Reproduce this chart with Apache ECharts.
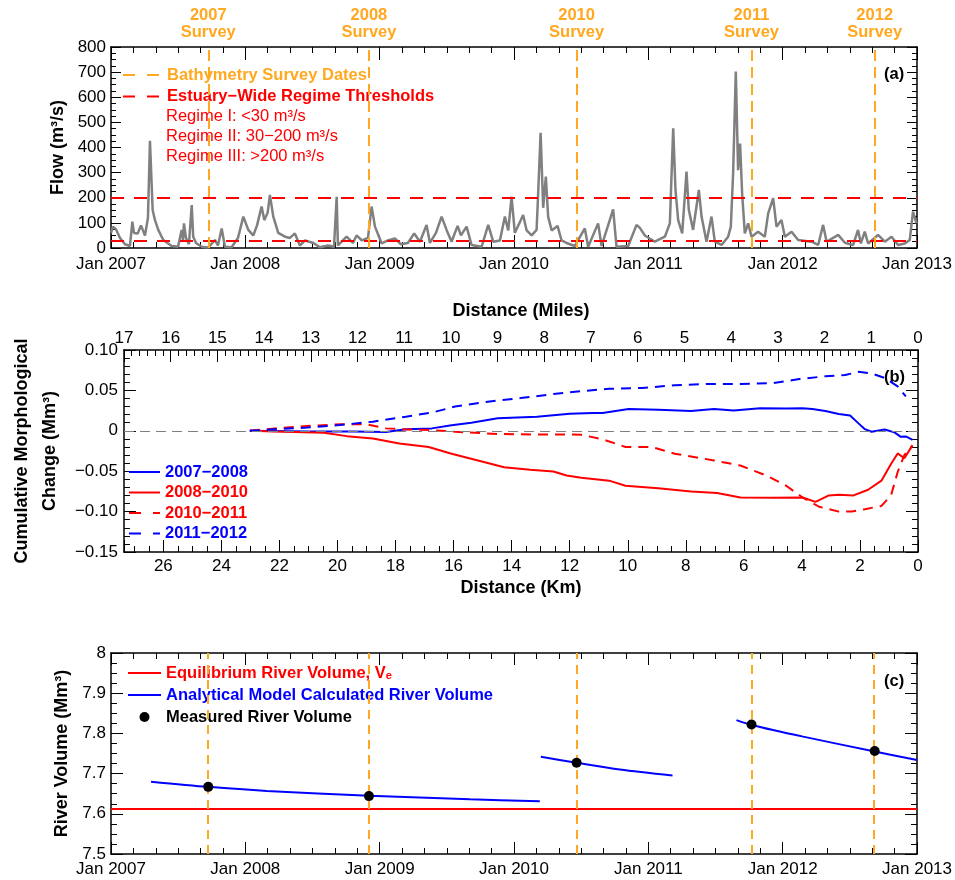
<!DOCTYPE html>
<html><head><meta charset="utf-8">
<script src="https://cdn.jsdelivr.net/npm/echarts@6/dist/echarts.min.js"></script>
<style>html,body{margin:0;padding:0;background:#fff}#c{width:955px;height:880px}</style>
</head><body><div id="c"></div><script>
// ---------- Panel (a): river flow (decimal year, m3/s) ----------
const flowData = [
[2007.000,60],[2007.015,85],[2007.037,75],[2007.067,40],[2007.104,15],[2007.141,8],[2007.159,105],[2007.171,60],
[2007.199,58],[2007.223,90],[2007.253,50],[2007.275,120],[2007.290,427],[2007.310,151],[2007.327,112],[2007.352,72],
[2007.389,32],[2007.452,8],[2007.499,5],[2007.526,72],[2007.536,30],[2007.543,98],[2007.558,40],[2007.580,15],
[2007.601,171],[2007.612,45],[2007.633,20],[2007.675,5],[2007.724,2],[2007.774,32],[2007.796,10],[2007.824,78],
[2007.848,5],[2007.898,3],[2007.945,40],[2007.985,125],[2008.022,72],[2008.059,50],[2008.087,90],[2008.121,165],
[2008.141,111],[2008.166,140],[2008.183,211],[2008.208,125],[2008.245,60],[2008.295,45],[2008.332,40],[2008.369,58],
[2008.406,10],[2008.444,30],[2008.506,20],[2008.555,3],[2008.615,10],[2008.660,5],[2008.680,204],[2008.689,10],
[2008.754,45],[2008.801,20],[2008.828,50],[2008.868,30],[2008.913,40],[2008.940,165],[2008.965,85],[2009.015,18],
[2009.061,30],[2009.113,38],[2009.158,15],[2009.210,20],[2009.257,58],[2009.300,25],[2009.349,92],[2009.374,20],
[2009.419,60],[2009.461,125],[2009.498,72],[2009.535,25],[2009.580,88],[2009.605,50],[2009.647,85],[2009.684,12],
[2009.759,5],[2009.808,92],[2009.845,25],[2009.895,30],[2009.932,125],[2009.957,70],[2009.982,204],[2010.006,60],
[2010.068,131],[2010.094,70],[2010.131,50],[2010.168,72],[2010.180,220],[2010.198,459],[2010.217,160],[2010.237,284],
[2010.254,125],[2010.280,70],[2010.324,88],[2010.354,30],[2010.391,20],[2010.453,8],[2010.527,78],[2010.552,5],
[2010.626,98],[2010.652,8],[2010.738,154],[2010.763,5],[2010.850,8],[2010.912,92],[2010.937,80],[2010.974,50],
[2011.048,25],[2011.123,45],[2011.160,98],[2011.185,476],[2011.202,231],[2011.222,111],[2011.252,58],[2011.284,304],
[2011.301,152],[2011.333,72],[2011.376,231],[2011.396,125],[2011.433,25],[2011.470,125],[2011.495,25],[2011.545,12],
[2011.594,45],[2011.614,85],[2011.631,297],[2011.651,702],[2011.668,310],[2011.683,416],[2011.698,218],[2011.718,58],
[2011.743,98],[2011.768,45],[2011.817,65],[2011.867,45],[2011.892,138],[2011.929,198],[2011.954,85],[2011.991,111],
[2012.016,45],[2012.066,65],[2012.115,32],[2012.214,25],[2012.264,12],[2012.301,92],[2012.327,25],[2012.413,52],
[2012.463,21],[2012.524,12],[2012.561,72],[2012.582,18],[2012.611,65],[2012.636,18],[2012.710,52],[2012.760,25],
[2012.810,45],[2012.859,12],[2012.909,18],[2012.946,32],[2012.970,145],[2012.996,98]
];
const surveyDates = [2007.724, 2008.920, 2010.466, 2011.768, 2012.685];
const surveyLabels = ['2007', '2008', '2010', '2011', '2012'];
const regimeThresholds = [30, 200];
const regimeNotes = ['Regime I: <30 m³/s', 'Regime II: 30−200 m³/s', 'Regime III: >200 m³/s'];
const yearTicks = [2007, 2013];

// ---------- Panel (b): cumulative morphological change (km, Mm3) ----------
const change0708 = [[23.02,0],[21.04,-0.001],[19.5,-0.001],[18.33,-0.0015],[17.65,0.002],[16.75,0.003],[16.07,0.007],
[15.39,0.010],[14.48,0.0155],[13.13,0.0175],[12.0,0.021],[11.2,0.022],[10.87,0.022],[9.97,0.027],[8.95,0.026],[7.82,0.0246],
[7.03,0.027],[6.35,0.025],[5.44,0.028],[4.54,0.0275],[3.98,0.028],[3.64,0.027],[3.19,0.0246],[2.73,0.0208],[2.34,0.0188],
[2.05,0.0092],[1.83,0.002],[1.60,-0.0012],[1.15,0.0017],[0.81,-0.002],[0.59,-0.0075],[0.42,-0.007],[0.19,-0.0112]];
const change0810 = [[23.02,0],[22.17,-0.001],[20.47,-0.0025],[19.68,-0.0066],[18.78,-0.0096],[17.87,-0.0158],[16.86,-0.020],
[16.07,-0.0283],[15.16,-0.0367],[14.26,-0.045],[13.36,-0.0483],[12.56,-0.0504],[12.11,-0.0554],[11.6,-0.058],[10.64,-0.0617],
[10.08,-0.068],[8.95,-0.071],[7.82,-0.075],[6.92,-0.077],[6.12,-0.0825],[4.99,-0.083],[3.98,-0.0825],[3.53,-0.088],
[3.07,-0.080],[2.73,-0.079],[2.22,-0.080],[1.72,-0.073],[1.26,-0.0617],[0.93,-0.041],[0.70,-0.028],[0.47,-0.034],[0.19,-0.018]];
const change1011 = [[23.02,0],[22.17,0.003],[21.04,0.0059],[19.91,0.008],[19.0,0.008],[18.33,0.003],[17.65,0.0017],
[16.75,0.0009],[15.95,-0.0012],[14.48,-0.004],[13.13,-0.0046],[12.0,-0.0046],[11.6,-0.005],[10.87,-0.0104],[10.08,-0.020],
[9.17,-0.020],[8.38,-0.0283],[7.03,-0.0367],[6.12,-0.043],[5.22,-0.0554],[4.54,-0.068],[3.98,-0.0825],[3.41,-0.094],
[2.73,-0.100],[2.28,-0.100],[1.83,-0.097],[1.26,-0.093],[0.93,-0.080],[0.70,-0.051],[0.47,-0.030],[0.19,-0.018]];
const change1112 = [[23.02,0],[22.17,0.002],[21.04,0.004],[19.91,0.0071],[18.78,0.0113],[17.65,0.0175],[16.75,0.0225],
[15.95,0.030],[14.82,0.036],[13.69,0.0405],[12.56,0.0455],[11.6,0.049],[10.64,0.052],[9.51,0.053],[8.38,0.0563],[7.25,0.058],
[6.12,0.058],[4.99,0.059],[4.09,0.064],[3.19,0.0675],[2.51,0.069],[2.05,0.073],[1.60,0.071],[1.15,0.0655],[0.70,0.055],[0.42,0.0425]];
const kmRange = [0, 27.359];
const mileRange = [0, 17];

// ---------- Panel (c): river volume (decimal year, Mm3) ----------
const equilibriumVolume = 7.612;
const modelSeg1 = [[2007.298,7.680],[2007.724,7.667],[2008.159,7.657],[2008.920,7.645],[2009.672,7.636],[2010.192,7.631]];
const modelSeg2 = [[2010.200,7.742],[2010.466,7.727],[2010.788,7.710],[2011.180,7.695]];
const modelSeg3 = [[2011.656,7.833],[2011.768,7.821],[2012.152,7.792],[2012.685,7.755],[2013.000,7.734]];
const measuredVolume = [7.667, 7.644, 7.727, 7.822, 7.756];

// ---------- styling ----------
const FONT = '"Liberation Sans", Arial, Helvetica, sans-serif';
const ORANGE = '#FFA820', RED = '#FF0000', BLUE = '#0000FF', GRAY = '#808080';
const L = 111, R = 37;
const NOSYM = {opacity: 0};

function axis(o) {
  return Object.assign({
    type: 'value', gridIndex: o.grid, position: o.pos, min: o.min, max: o.max, interval: o.interval,
    inverse: !!o.inverse,
    axisLine: {show: true, onZero: false, lineStyle: {color: '#000', width: 1.5}},
    axisTick: {show: true, inside: true, length: o.tl || 12, lineStyle: {color: '#000', width: 1}},
    minorTick: {show: true, splitNumber: o.ms, length: o.ml || 6, lineStyle: {color: '#000', width: 1}},
    splitLine: {show: false},
    axisLabel: o.labels ? {show: true, color: '#000', fontSize: 17, fontFamily: FONT, margin: o.margin,
      formatter: o.fmt, showMaxLabel: o.showMax !== false} : {show: false}
  }, o.extra || {});
}
const yearFmt = v => 'Jan ' + Math.round(v);
const chgFmt = v => Math.abs(v) < 1e-9 ? '0' : (v < 0 ? '−' : '') + Math.abs(v).toFixed(2);
const nameStyle = {color: '#000', fontSize: 18, fontWeight: 'bold', fontFamily: FONT};

const option = {
  animation: false,
  textStyle: {fontFamily: FONT},
  grid: [
    {left: L, right: R, top: 47, height: 201},
    {left: L, right: R, top: 350, height: 202},
    {left: L, right: R, top: 653, height: 201}
  ],
  xAxis: [
    axis({grid: 0, pos: 'bottom', min: yearTicks[0], max: yearTicks[1], interval: 1, ms: 6, tl: 13, ml: 6, labels: true, margin: 8, fmt: yearFmt}),
    axis({grid: 0, pos: 'top', min: yearTicks[0], max: yearTicks[1], interval: 1, ms: 6, tl: 13, ml: 6}),
    axis({grid: 1, pos: 'bottom', min: kmRange[0], max: kmRange[1], interval: 2, ms: 4, inverse: true, labels: true, margin: 6, showMax: false,
      extra: {name: 'Distance (Km)', nameLocation: 'middle', nameGap: 27, nameTextStyle: nameStyle}}),
    axis({grid: 1, pos: 'top', min: mileRange[0], max: mileRange[1], interval: 1, ms: 6, inverse: true, labels: true, margin: 3,
      extra: {name: 'Distance (Miles)', nameLocation: 'middle', nameGap: 30, nameTextStyle: nameStyle}}),
    axis({grid: 2, pos: 'bottom', min: yearTicks[0], max: yearTicks[1], interval: 1, ms: 6, tl: 12, ml: 6, labels: true, margin: 7, fmt: yearFmt}),
    axis({grid: 2, pos: 'top', min: yearTicks[0], max: yearTicks[1], interval: 1, ms: 6, tl: 12, ml: 6})
  ],
  yAxis: [
    axis({grid: 0, pos: 'left', min: 0, max: 800, interval: 100, ms: 4, tl: 10, ml: 5, labels: true, margin: 5,
      extra: {name: 'Flow (m³/s)', nameLocation: 'middle', nameGap: 43, nameTextStyle: nameStyle}}),
    axis({grid: 0, pos: 'right', min: 0, max: 800, interval: 100, ms: 4, tl: 10, ml: 5}),
    axis({grid: 1, pos: 'left', min: -0.15, max: 0.10, interval: 0.05, ms: 5, labels: true, margin: 6, fmt: chgFmt,
      extra: {name: 'Cumulative Morphological\nChange (Mm³)', nameLocation: 'middle', nameGap: 58,
        nameTextStyle: Object.assign({lineHeight: 28}, nameStyle)}}),
    axis({grid: 1, pos: 'right', min: -0.15, max: 0.10, interval: 0.05, ms: 5}),
    axis({grid: 2, pos: 'left', min: 7.5, max: 8, interval: 0.1, ms: 4, labels: true, margin: 5,
      extra: {name: 'River Volume (Mm³)', nameLocation: 'middle', nameGap: 39, nameTextStyle: nameStyle}}),
    axis({grid: 2, pos: 'right', min: 7.5, max: 8, interval: 0.1, ms: 4})
  ],
  legend: [
    {left: 122, top: 66.5, orient: 'vertical', padding: 0, itemWidth: 39, itemHeight: 14, itemGap: 4.5, selectedMode: false,
      textStyle: {fontSize: 16.5, fontWeight: 'bold', fontFamily: FONT},
      lineStyle: {type: [12, 12]}, itemStyle: NOSYM,
      data: [{name: 'Bathymetry Survey Dates', textStyle: {color: ORANGE}},
             {name: 'Estuary−Wide Regime Thresholds', textStyle: {color: RED}}]},
    {left: 128, top: 463.5, orient: 'vertical', padding: 0, itemWidth: 31, itemHeight: 14, itemGap: 3.5, selectedMode: false,
      textStyle: {fontSize: 16.5, fontWeight: 'bold', fontFamily: FONT}, itemStyle: NOSYM,
      data: [{name: '2007−2008', textStyle: {color: BLUE}},
             {name: '2008−2010', textStyle: {color: RED}},
             {name: '2010−2011', textStyle: {color: RED}, lineStyle: {type: [12, 12]}},
             {name: '2011−2012', textStyle: {color: BLUE}, lineStyle: {type: [12, 12]}}]},
    {left: 127, top: 664.5, orient: 'vertical', padding: 0, itemWidth: 33, itemHeight: 10, itemGap: 5, selectedMode: false,
      textStyle: {fontSize: 16.5, fontWeight: 'bold', fontFamily: FONT},
      data: [{name: 'Equilibrium River Volume, Vₑ', textStyle: {color: RED}, itemStyle: NOSYM},
             {name: 'Analytical Model Calculated River Volume', textStyle: {color: BLUE}, itemStyle: NOSYM},
             {name: 'Measured River Volume', textStyle: {color: '#000'}, itemStyle: {opacity: 1, color: '#000'}}]}
  ],
  graphic: [
    ...regimeNotes.map((t, i) => ({type: 'text', left: 166, top: 108 + i * 20,
      style: {text: t, fill: RED, font: '16.5px ' + FONT}})),
    {type: 'text', left: 884, top: 66, style: {text: '(a)', fill: '#000', font: 'bold 16.5px ' + FONT}},
    {type: 'text', left: 884, top: 369, style: {text: '(b)', fill: '#000', font: 'bold 16.5px ' + FONT}},
    {type: 'text', left: 884, top: 673, style: {text: '(c)', fill: '#000', font: 'bold 16.5px ' + FONT}}
  ],
  series: [
    // panel a
    {type: 'line', name: 'Flow', xAxisIndex: 0, yAxisIndex: 0, data: flowData, symbol: 'none', silent: true,
      lineStyle: {color: GRAY, width: 2.5}, z: 2,
      markLine: {symbol: ['none', 'none'], silent: true, animation: false, precision: 3,
        data: [
          ...regimeThresholds.map(v => ({yAxis: v, label: {show: false},
            lineStyle: {color: RED, width: 2, type: [13, 10]}})),
          ...surveyDates.map((d, i) => ({xAxis: d, name: surveyLabels[i] + '\nSurvey',
            lineStyle: {color: ORANGE, width: 2, type: [11, 6]},
            label: {show: true, position: 'end', formatter: '{b}', color: ORANGE, fontWeight: 'bold',
              fontSize: 16.5, lineHeight: 17, fontFamily: FONT, distance: 6}}))
        ]}},
    {type: 'line', name: 'Bathymetry Survey Dates', xAxisIndex: 0, yAxisIndex: 0, data: [], symbol: 'none',
      itemStyle: {color: ORANGE}, lineStyle: {color: ORANGE, width: 2, type: [12, 12]}},
    {type: 'line', name: 'Estuary−Wide Regime Thresholds', xAxisIndex: 0, yAxisIndex: 0, data: [], symbol: 'none',
      itemStyle: {color: RED}, lineStyle: {color: RED, width: 2, type: [12, 12]}},
    // panel b
    {type: 'line', name: '2007−2008', xAxisIndex: 2, yAxisIndex: 2, data: change0708, symbol: 'none', silent: true,
      itemStyle: {color: BLUE}, lineStyle: {color: BLUE, width: 2},
      markLine: {symbol: ['none', 'none'], silent: true, label: {show: false},
        lineStyle: {color: GRAY, width: 1, type: [10, 6]}, data: [{yAxis: 0}]}},
    {type: 'line', name: '2008−2010', xAxisIndex: 2, yAxisIndex: 2, data: change0810, symbol: 'none', silent: true,
      itemStyle: {color: RED}, lineStyle: {color: RED, width: 2}},
    {type: 'line', name: '2010−2011', xAxisIndex: 2, yAxisIndex: 2, data: change1011, symbol: 'none', silent: true,
      itemStyle: {color: RED}, lineStyle: {color: RED, width: 2, type: [10, 7]}},
    {type: 'line', name: '2011−2012', xAxisIndex: 2, yAxisIndex: 2, data: change1112, symbol: 'none', silent: true,
      itemStyle: {color: BLUE}, lineStyle: {color: BLUE, width: 2, type: [10, 7]}},
    // panel c
    {type: 'line', name: 'Equilibrium River Volume, Vₑ', xAxisIndex: 4, yAxisIndex: 4,
      data: [[yearTicks[0], equilibriumVolume], [yearTicks[1], equilibriumVolume]], symbol: 'none', silent: true,
      itemStyle: {color: RED}, lineStyle: {color: RED, width: 2},
      markLine: {symbol: ['none', 'none'], silent: true, label: {show: false},
        lineStyle: {color: ORANGE, width: 2, type: [9, 6]}, data: surveyDates.map(d => ({xAxis: d}))}},
    ...[modelSeg1, modelSeg2, modelSeg3].map(seg => ({type: 'line', name: 'Analytical Model Calculated River Volume',
      xAxisIndex: 4, yAxisIndex: 4, data: seg, symbol: 'none', smooth: 0.3, silent: true,
      itemStyle: {color: BLUE}, lineStyle: {color: BLUE, width: 2}})),
    {type: 'scatter', name: 'Measured River Volume', xAxisIndex: 4, yAxisIndex: 4,
      data: surveyDates.map((d, i) => [d, measuredVolume[i]]), symbol: 'circle', symbolSize: 10, silent: true,
      itemStyle: {color: '#000', opacity: 1}, z: 5}
  ]
};
const chart = echarts.init(document.getElementById('c'), null, {renderer: 'canvas'});
chart.setOption(option);
</script></body></html>
